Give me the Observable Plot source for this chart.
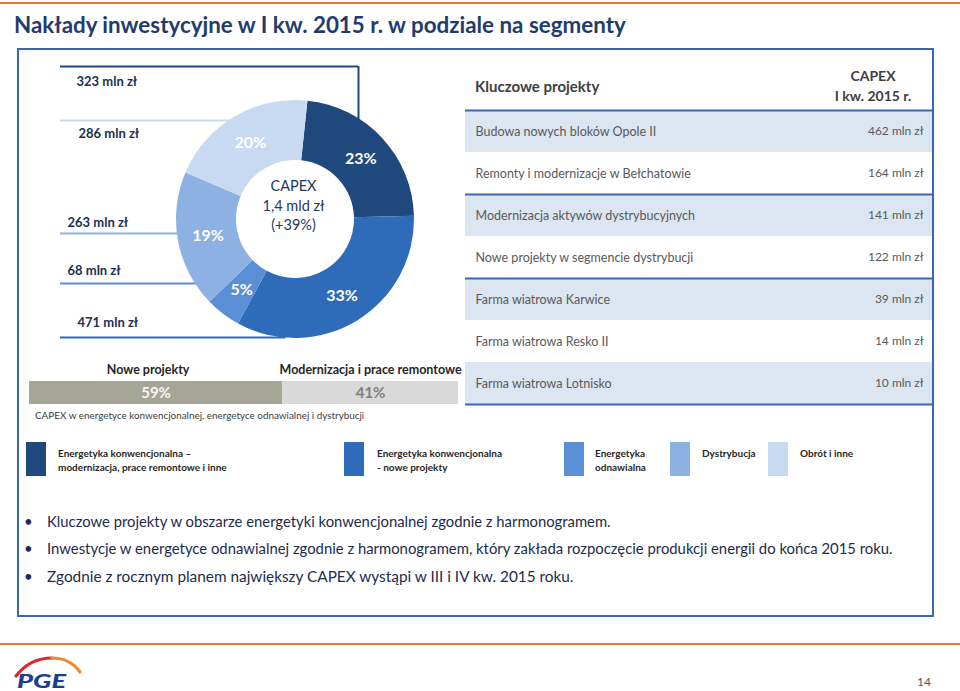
<!DOCTYPE html>
<html lang="pl"><head><meta charset="utf-8">
<script src="https://cdn.jsdelivr.net/npm/d3@7"></script>
<script src="https://cdn.jsdelivr.net/npm/@observablehq/plot@0.6"></script>
<style>
html,body{margin:0;padding:0;background:#fff;}
#page{position:relative;width:960px;height:691px;overflow:hidden;font-family:Lato,"Open Sans",sans-serif;background:#fff;}
.abs{position:absolute;white-space:nowrap;}
.orange{position:absolute;left:0;width:960px;height:2px;background:#e8772e;}
#title{left:14px;top:9px;font-size:23px;line-height:30px;font-weight:700;color:#1f3c6c;}
#frame{position:absolute;left:17px;top:48px;width:917px;height:569px;box-sizing:border-box;border:2px solid #3a68ae;}
.plotbox{position:absolute;}
.plotbox svg{background:transparent !important;overflow:visible;}
.legsw{position:absolute;width:20px;height:34px;top:442px;}
.legtx{position:absolute;top:446px;font-size:10px;line-height:14px;font-weight:700;color:#262626;white-space:nowrap;}
.bul{position:absolute;left:24px;font-size:15px;line-height:22px;color:#1c2c4c;white-space:nowrap;}
.bul .dot{position:absolute;left:0;top:0;}
.bul .txt{position:absolute;left:23px;top:0;display:inline-block;}
</style></head>
<body><div id="page">
<div class="orange" style="top:2px"></div>
<div id="title" class="abs"><span id="titletext"></span></div>
<div id="frame"></div>
<div id="donut" class="plotbox" style="left:20px;top:50px"></div>
<div id="split" class="plotbox" style="left:29px;top:351px"></div>
<div id="caption" class="abs" style="left:35px;top:407px;font-size:10px;line-height:16px;color:#404040"><span id="captext"></span></div>
<div id="thead1" class="abs" style="left:475px;top:76px;font-size:15px;line-height:20px;font-weight:700;color:#404040"></div>
<div id="thead2" class="abs" style="left:813px;top:66px;width:120px;text-align:center;font-size:14px;line-height:20px;font-weight:700;color:#404040"></div>
<div id="table" class="plotbox" style="left:465px;top:109px"></div>
<div id="legend"></div>
<div id="bullets"></div>
<div class="orange" style="top:643px"></div>
<svg class="abs" style="left:8px;top:652px" width="90" height="39">
  <path d="M8,24 Q22,6 44,6" fill="none" stroke="#e3262b" stroke-width="3.2" stroke-linecap="round"/>
  <path d="M44,6 Q62,6 72,20" fill="none" stroke="#ee8a2e" stroke-width="3.2" stroke-linecap="round"/>
  <text x="9" y="36" font-family="Lato, sans-serif" font-size="18" font-style="italic" font-weight="900" fill="#1c3f8c" textLength="49" lengthAdjust="spacingAndGlyphs">PGE</text>
</svg>
<div class="abs" style="left:917px;top:674px;font-size:12px;line-height:16px;color:#595959">14</div>
</div>
<script>
// ---------------- data ----------------
const segments = [
  "Energetyka konwencjonalna – modernizacja, prace remontowe i inne",
  "Energetyka konwencjonalna - nowe projekty",
  "Energetyka odnawialna",
  "Dystrybucja",
  "Obrót i inne"
];
const segmentValues = [323, 471, 68, 263, 286];   // mln zł
const segmentShares = [23, 33, 5, 19, 20];        // %
const leaderOrder = [0, 4, 3, 2, 1];              // segments listed top to bottom at the left
const centerLines = ["CAPEX", "1,4 mld zł", "(+39%)"];

const splitCategories = ["Nowe projekty", "Modernizacja i prace remontowe"];
const splitShares = [59, 41];
const captionText = "CAPEX w energetyce konwencjonalnej, energetyce odnawialnej i dystrybucji";

const tableHeader = ["Kluczowe projekty", "CAPEX", "I kw. 2015 r."];
const projects = [
  "Budowa nowych bloków Opole II",
  "Remonty i modernizacje w Bełchatowie",
  "Modernizacja aktywów dystrybucyjnych",
  "Nowe projekty w segmencie dystrybucji",
  "Farma wiatrowa Karwice",
  "Farma wiatrowa Resko II",
  "Farma wiatrowa Lotnisko"
];
const projectCapex = [462, 164, 141, 122, 39, 14, 10];   // mln zł
const tableRuleRows = [0, 2, 4, 7];

const legendLines = [
  ["Energetyka konwencjonalna –", "modernizacja, prace remontowe i inne"],
  ["Energetyka konwencjonalna", "- nowe projekty"],
  ["Energetyka", "odnawialna"],
  ["Dystrybucja"],
  ["Obrót i inne"]
];
const bullets = [
  "Kluczowe projekty w obszarze energetyki konwencjonalnej zgodnie z harmonogramem.",
  "Inwestycje w energetyce odnawialnej zgodnie z harmonogramem, który zakłada rozpoczęcie produkcji energii do końca 2015 roku.",
  "Zgodnie z rocznym planem największy CAPEX wystąpi w III i IV kw. 2015 roku."
];
const titleText = "Nakłady inwestycyjne w I kw. 2015 r. w podziale na segmenty";

// ---------------- styles / layout ----------------
const segmentColors = ["#1f497d", "#2e6cba", "#5a8fd6", "#8db1e2", "#c8daf1"];
const splitColors = ["#a6a696", "#d9d9d9"];
const CX = 275, CY = 169, R_IN = 59, R_OUT = 119, START = 6 * Math.PI / 180;
const leaderLayout = [
  {lineY: 16, textX: 56, textY: 31},
  {lineY: 70, textX: 58, textY: 83},
  {lineY: 183, textX: 47, textY: 172},
  {lineY: 233, textX: 47, textY: 220},
  {lineY: 287, textX: 57, textY: 272}
];
const splitLabelDx = [-8, 0];
const legendSwX = [26, 344, 564, 670, 768];
const legendTxX = [58, 377, 595, 702, 800];
const bulletY = [510, 537, 565];
const bulletW = [564, 846, 527];

function fitWidth(el, target) {
  const w = el.getBoundingClientRect().width;
  if (!w) return;
  const fs = parseFloat(getComputedStyle(el).fontSize);
  el.style.fontSize = (fs * target / w) + "px";
}

// title
const tt = document.getElementById("titletext");
tt.textContent = titleText;
fitWidth(tt, 612);

// ---------------- donut ----------------
const arcs = d3.pie().sort(null).startAngle(START).endAngle(START + 2 * Math.PI)(segmentValues)
  .map((a, i) => ({...a, segment: segments[i], share: segmentShares[i]}));
const arcGen = d3.arc().innerRadius(R_IN).outerRadius(R_OUT);

const leaders = leaderOrder.map((s, k) => {
  const L = leaderLayout[k];
  const dy = L.lineY - CY;
  const xEnd = k === 0 ? CX + 63 : CX - Math.sqrt(Math.max(0, R_OUT * R_OUT - dy * dy)) + 6;
  return {segment: segments[s], label: `${segmentValues[s]} mln zł`, ...L, xEnd};
});

const colorFallback = d3.scaleOrdinal(segments, segmentColors);
const donutPlot = Plot.plot({
  width: 440, height: 300, margin: 0,
  x: {type: "identity", axis: null},
  y: {type: "identity", axis: null},
  color: {domain: segments, range: segmentColors},
  style: {fontFamily: "Lato, sans-serif", background: "transparent", overflow: "visible"},
  marks: [
    Plot.ruleY(leaders, {y: "lineY", x1: 40, x2: "xEnd", stroke: "segment", strokeWidth: 2}),
    Plot.ruleX(leaders.slice(0, 1), {x: "xEnd", y1: "lineY", y2: CY, stroke: "segment", strokeWidth: 2}),
    (index, scales) => {
      const col = scales && scales.color ? scales.color : colorFallback;
      const g = d3.create("svg:g").attr("transform", `translate(${CX},${CY})`);
      g.selectAll("path").data(arcs).join("path")
        .attr("d", arcGen)
        .attr("fill", d => col(d.segment));
      return g.node();
    },
    Plot.text(arcs, {
      x: d => CX + arcGen.centroid(d)[0], y: d => CY + arcGen.centroid(d)[1],
      text: d => `${d.share}%`, fill: "#ffffff", fontSize: 16, fontWeight: 700
    }),
    Plot.text(centerLines, {
      x: CX - 2, y: (d, i) => CY - 33 + i * 19.5, text: d => d,
      fill: "#1f3864", fontSize: 14.5
    }),
    Plot.text(leaders, {
      x: "textX", y: "textY", text: "label", textAnchor: "start",
      fill: "#1c2f52", fontSize: 13, fontWeight: 700
    })
  ]
});
document.getElementById("donut").appendChild(donutPlot);

// ---------------- 59 / 41 split bar ----------------
const splitData = splitCategories.map((c, i) => ({category: c, share: splitShares[i]}));
const splitPlot = Plot.plot({
  width: 429, height: 53, marginTop: 30, marginBottom: 0, marginLeft: 0, marginRight: 0,
  x: {domain: [0, 100], axis: null},
  color: {domain: splitCategories, range: splitColors},
  style: {fontFamily: "Lato, sans-serif", background: "transparent", overflow: "visible"},
  marks: [
    Plot.barX(splitData, Plot.stackX({x: "share", fill: "category"})),
    Plot.text(splitData, Plot.stackX({x: "share", text: (d, i) => i === 0 ? `${d.share}%` : "", fill: "#f4f4f4", fontSize: 15, fontWeight: 700})),
    Plot.text(splitData, Plot.stackX({x: "share", text: (d, i) => i === 1 ? `${d.share}%` : "", fill: "#7f7f7f", fontSize: 15, fontWeight: 700})),
    Plot.text(splitData, Plot.stackX({x: "share", text: (d, i) => i === 0 ? d.category : "", frameAnchor: "top", dy: -16, dx: splitLabelDx[0], fill: "#262626", fontSize: 12.5, fontWeight: 700})),
    Plot.text(splitData, Plot.stackX({x: "share", text: (d, i) => i === 1 ? d.category : "", frameAnchor: "top", dy: -16, dx: splitLabelDx[1], fill: "#262626", fontSize: 12.5, fontWeight: 700}))
  ]
});
document.getElementById("split").appendChild(splitPlot);
const ct = document.getElementById("captext");
ct.textContent = captionText;
fitWidth(ct, 330);

// ---------------- table ----------------
document.getElementById("thead1").textContent = tableHeader[0];
document.getElementById("thead2").innerHTML = tableHeader[1] + "<br>" + tableHeader[2];
const rows = projects.map((p, i) => ({project: p, capex: projectCapex[i], row: i}));
const tablePlot = Plot.plot({
  width: 467, height: 296, marginTop: 1, marginBottom: 1, marginLeft: 0, marginRight: 0,
  x: {domain: [0, 1], axis: null},
  y: {domain: [0, 7], reverse: true, axis: null},
  style: {fontFamily: "Lato, sans-serif", background: "transparent", overflow: "visible"},
  marks: [
    Plot.rect(rows.filter(d => d.row % 2 === 0), {x1: 0, x2: 1, y1: "row", y2: d => d.row + 1, fill: "#dce6f2"}),
    Plot.ruleY(tableRuleRows, {stroke: "#3a68ae", strokeWidth: 2}),
    Plot.text(rows, {x: 0, y: d => d.row + 0.5, text: "project", textAnchor: "start", dx: 10, fill: "#595959", fontSize: 12.5}),
    Plot.text(rows, {x: 1, y: d => d.row + 0.5, text: d => `${d.capex} mln zł`, textAnchor: "end", dx: -9, fill: "#595959", fontSize: 12})
  ]
});
document.getElementById("table").appendChild(tablePlot);

// ---------------- legend ----------------
const legend = document.getElementById("legend");
segments.forEach((s, i) => {
  const sw = document.createElement("div");
  sw.className = "legsw";
  sw.style.left = legendSwX[i] + "px";
  sw.style.background = segmentColors[i];
  legend.appendChild(sw);
  const tx = document.createElement("div");
  tx.className = "legtx";
  tx.style.left = legendTxX[i] + "px";
  tx.innerHTML = legendLines[i].join("<br>");
  legend.appendChild(tx);
});

// ---------------- bullets ----------------
const bl = document.getElementById("bullets");
bullets.forEach((b, i) => {
  const d = document.createElement("div");
  d.className = "bul";
  d.style.top = bulletY[i] + "px";
  d.innerHTML = `<span class="dot">•</span><span class="txt"></span>`;
  d.querySelector(".txt").textContent = b;
  bl.appendChild(d);
  fitWidth(d.querySelector(".txt"), bulletW[i]);
});
</script>
</body></html>
